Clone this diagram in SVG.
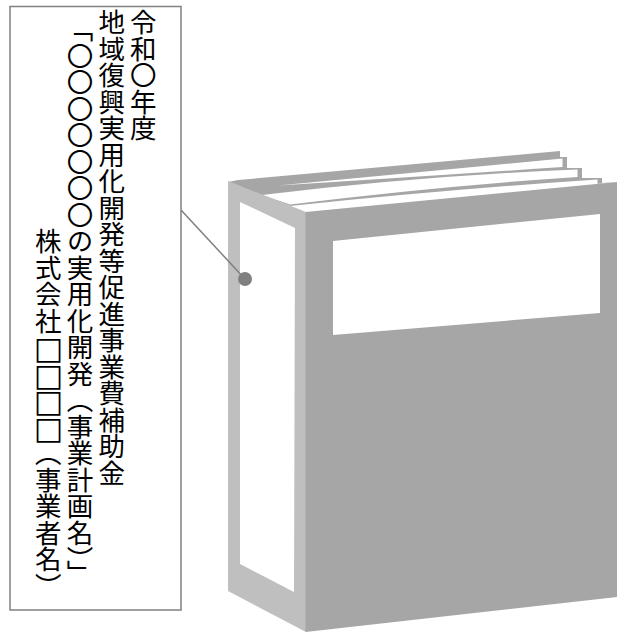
<svg xmlns="http://www.w3.org/2000/svg" width="617" height="633" viewBox="0 0 617 633">
  <style>
    .frame { fill: #ffffff; stroke: #808080; stroke-width: 1.5; }
    .vtext { writing-mode: vertical-rl; font-family: "Noto Sans CJK JP", "Noto Sans CJK SC", sans-serif; font-size: 26.5px; fill: #000000; }
    .box { font-family: "DejaVu Sans", "Liberation Sans", sans-serif; font-size: 31px; fill: #000000; }
    .cover { fill: #a6a6a6; }
    .spine { fill: #bfbfbf; }
    .blank { fill: #ffffff; }
    .leader { stroke: #808080; stroke-width: 1.5; fill: none; }
    .pin { fill: #808080; }
  </style>

  <!-- label box with vertical text -->
  <g id="label-box">
    <rect class="frame" x="10" y="6.5" width="171" height="603.5"/>
    <text class="vtext" x="143.3" y="9">令和〇年度</text>
    <text class="vtext" x="111.7" y="9">地域復興実用化開発等促進事業費補助金</text>
    <text class="vtext" x="80" y="16">「〇〇〇〇〇〇〇の実用化開発（事業計画名）」</text>
    <text class="vtext" x="48.3" y="228">株式会社</text>
    <!-- four placeholder squares, one per character cell -->
    <text class="vtext box" x="48.3" y="330">□</text>
    <text class="vtext box" x="48.3" y="356.5">□</text>
    <text class="vtext box" x="48.3" y="383">□</text>
    <text class="vtext box" x="48.3" y="409.5">□</text>
    <text class="vtext" x="48.3" y="440">（事業者名）</text>
  </g>

  <!-- binder -->
  <g id="binder">
    <!-- back cover and page block -->
    <polygon class="cover" points="228,182 238,180 560,151 560,157 567,157 567,168 582,168 582,178 602,178 602,183 617,182 306,212"/>
    <!-- page edges -->
    <path class="blank" d="M278,185.5 L562.5,158.5 L562.5,167 Q430,176 278,185.5 Z"/>
    <path class="blank" d="M262,195 Q420,176 577.5,169.5 L577.5,177 Q440,186 290,204.5 Z"/>
    <path class="blank" d="M290,206 Q440,190 597.5,179.5 L597.5,186 L306,214 Z"/>
    <!-- spine -->
    <polygon class="spine" points="228,181 306,212 306,632 228,591"/>
    <polygon class="blank" points="240,202 295,228 294,592 240,564"/>
    <!-- front cover -->
    <polygon class="cover" points="305.5,212 617,182 617,597 305.5,632"/>
    <polygon class="blank" points="333,241 600,214 600,313 333,335"/>
  </g>

  <!-- connectors -->
  <g id="connectors">
    <line class="leader" x1="181" y1="210" x2="245" y2="279"/>
    <circle class="pin" cx="245" cy="279" r="7"/>
  </g>
</svg>
